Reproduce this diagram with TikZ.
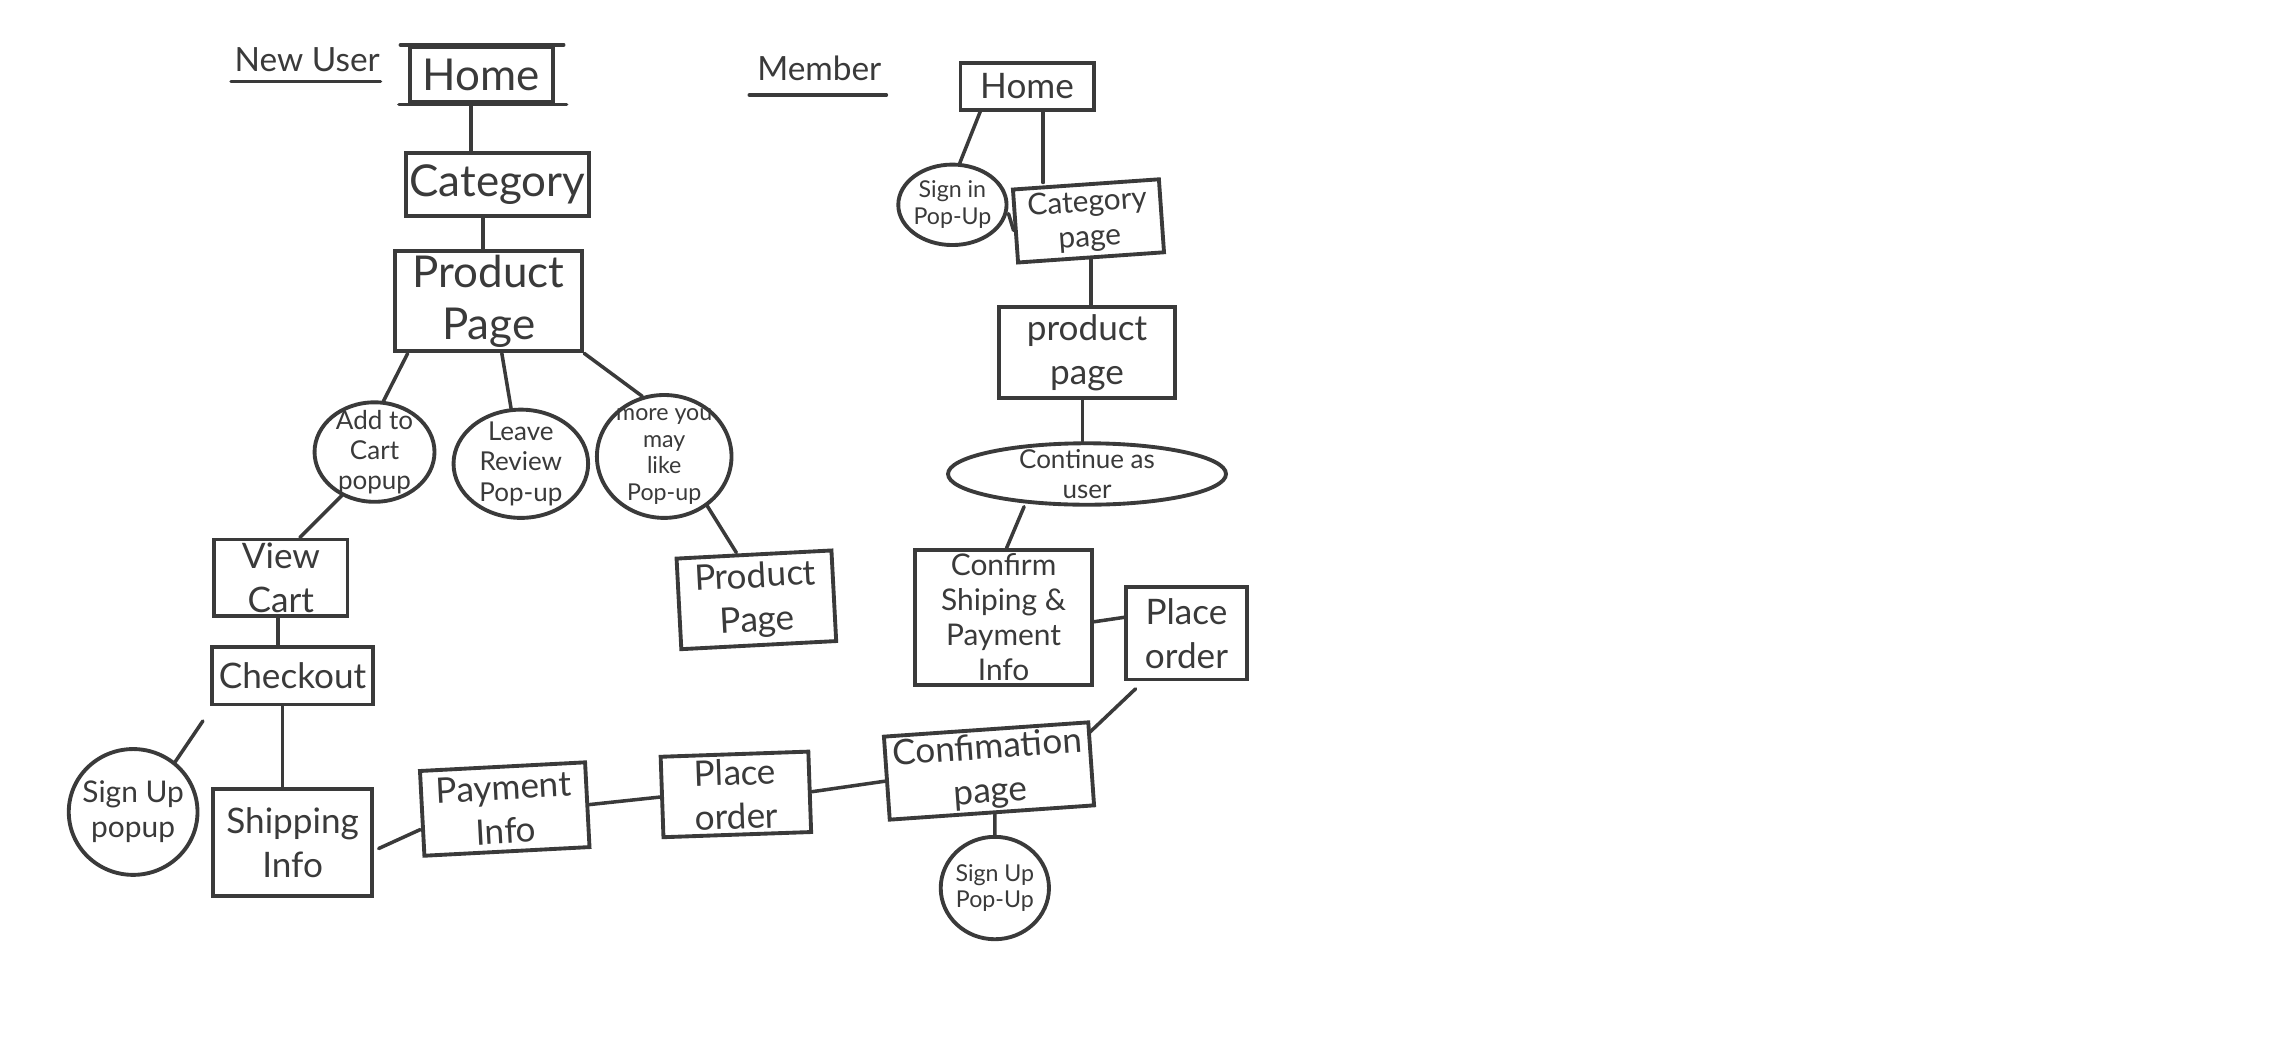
\documentclass[tikz,border=0pt]{standalone}
\usepackage{fontspec}
\setmainfont{Lato}
\usetikzlibrary{shapes.geometric,calc}
\definecolor{pencil}{HTML}{3A3A3A}
\newcommand\pu{0.01463cm}
\tikzset{
  ink/.style={draw=pencil, line width=1.1pt},
  box/.style={ink, rectangle, align=center, inner sep=1pt, text=pencil},
  bubble/.style={ink, ellipse, inner sep=0pt},
  btxt/.style={align=center, inner sep=0pt, text=pencil},
  fbig/.style={font=\fontsize{12.5}{15}\selectfont},
  fmid/.style={font=\fontsize{10}{12.5}\selectfont},
  fsml/.style={font=\fontsize{8.5}{10}\selectfont},
  fpop/.style={font=\fontsize{7.4}{8.6}\selectfont},
  ftiny/.style={font=\fontsize{6.6}{7.6}\selectfont},
  title/.style={text=pencil, inner sep=0pt, font=\fontsize{9.5}{11}\selectfont},
  link/.style={draw=pencil, line width=1pt, line cap=round},
}
\begin{document}
\begin{tikzpicture}[x=\pu, y=-\pu]
\useasboundingbox[fill=white] (0,0) rectangle (1568,716);

% ---------------- New User ----------------
\node[title] (nuT) at (210,41) {New User};
\draw[link] ([xshift=-2*\pu,yshift=-6*\pu]nuT.south west) -- ([xshift=0*\pu,yshift=-6*\pu]nuT.south east);

\node[box, fbig, minimum width=98*\pu, minimum height=38*\pu] (lHome) at (329,51) {Home};
\draw[link] ([xshift=-5*\pu]lHome.north west) -- ([xshift=6*\pu]lHome.north east);
\draw[link] ([xshift=-6*\pu]lHome.south west) -- ([xshift=8*\pu]lHome.south east);
\node[box, fbig, minimum width=124*\pu, minimum height=43*\pu] (lCat) at (340,126) {Category};
\node[box, fbig, minimum width=128*\pu, minimum height=53*\pu] (lProd) at (334,206) {Product\\Page};

\node[bubble, minimum width=82*\pu, minimum height=68*\pu,
  label={[btxt, fpop]center:{Add to\\Cart\\popup}}] (lAdd) at (256,309) {};
\node[bubble, minimum width=92*\pu, minimum height=74*\pu,
  label={[btxt, fpop]center:{Leave\\Review\\Pop-up}}] (lRev) at (356,317) {};
\node[bubble, minimum width=92*\pu, minimum height=84*\pu,
  label={[btxt, ftiny]center:{more you\\may\\like\\Pop-up}}] (lMore) at (454,312) {};
\node[box, fmid, minimum width=106*\pu, minimum height=62*\pu, rotate=3] (lProd2) at (517,410) {Product\\Page};

\node[box, fmid, minimum width=91*\pu, minimum height=50*\pu] (lView) at (192,395) {View\\Cart};
\node[box, fmid, minimum width=110*\pu, minimum height=39*\pu] (lCheck) at (200,462) {Checkout};
\node[bubble, minimum width=88*\pu, minimum height=86*\pu,
  label={[btxt, fsml]center:{Sign Up\\popup}}] (lSign) at (91,555) {};
\node[box, fmid, minimum width=109*\pu, minimum height=73*\pu] (lShip) at (200,576) {Shipping\\Info};
\node[box, fmid, minimum width=113*\pu, minimum height=58*\pu, rotate=3] (lPay) at (345,553) {Payment\\Info};
\node[box, fmid, minimum width=101*\pu, minimum height=55*\pu, rotate=2] (lPlace) at (503,543) {Place\\order};
\node[box, fmid, minimum width=140*\pu, minimum height=56*\pu, rotate=4] (conf) at (676,527) {Confimation\\page};
\node[bubble, minimum width=74*\pu, minimum height=70*\pu,
  label={[btxt, ftiny]center:{Sign Up\\Pop-Up}}] (sign2) at (680,607) {};

\draw[link] ([xshift=-7*\pu]lHome.south) -- ([xshift=-7*\pu]lHome.south |- lCat.north);
\draw[link] ([xshift=-10*\pu]lCat.south) -- ([xshift=-10*\pu]lCat.south |- lProd.north);
\draw[link] ([xshift=10*\pu]lProd.south west) -- (lAdd.80);
\draw[link] ([xshift=9*\pu]lProd.south) -- (lRev.100);
\draw[link] (lProd.south east) -- (lMore.110);
\draw[link] (lMore.311) -- ([xshift=-12*\pu]lProd2.north);
\draw[link] (lAdd.233) -- ([xshift=13*\pu]lView.north);
\draw[link] ([xshift=-2*\pu]lView.south) -- ([xshift=-2*\pu]lView.south |- lCheck.north);
\draw[link] ([xshift=-7*\pu]lCheck.south) -- ([xshift=-7*\pu]lCheck.south |- lShip.north);
\draw[link] ([xshift=-5*\pu,yshift=-10*\pu]lCheck.south west) -- (lSign.50);
\draw[link] ([xshift=3*\pu,yshift=-4*\pu]lShip.east) -- ([yshift=-11*\pu]lPay.west);
\draw[link] (lPay.east) -- (lPlace.west);
\draw[link] (lPlace.east) -- ([yshift=-2*\pu]conf.west);
\draw[link] ([xshift=2*\pu]conf.south) -- (sign2.north);

% ---------------- Member ----------------
\node[title] (mT) at (560,47) {Member};
\draw[link] ([xshift=-5*\pu,yshift=-9*\pu]mT.south west) -- ([xshift=3*\pu,yshift=-9*\pu]mT.south east);

\node[box, fmid, minimum width=91*\pu, minimum height=32*\pu] (mHome) at (702,59) {Home};
\node[bubble, minimum width=74*\pu, minimum height=55*\pu,
  label={[btxt, ftiny]center:{Sign in\\Pop-Up}}] (mSign) at (651,140) {};
\node[box, fsml, minimum width=100*\pu, minimum height=50*\pu, rotate=4] (mCat) at (744,151) {Category\\page};
\node[box, fmid, minimum width=120*\pu, minimum height=62*\pu] (mProd) at (743,241) {product\\page};
\node[bubble, minimum width=190*\pu, minimum height=42*\pu,
  label={[btxt, fpop]center:{Continue as\\user}}] (mCont) at (743,324) {};
\node[box, fsml, minimum width=121*\pu, minimum height=88*\pu] (mConfirm) at (686,422) {Confirm\\Shiping \&\\Payment\\Info};
\node[box, fmid, minimum width=83*\pu, minimum height=63*\pu] (mPlace) at (811,433) {Place\\order};

\draw[link] ([xshift=-32*\pu]mHome.south) -- (mSign.80);
\draw[link] ([xshift=11*\pu]mHome.south) -- ([xshift=11*\pu]mHome.south |- mCat.north);
\draw[link] ([yshift=-6*\pu]mSign.east) -- ([yshift=-3*\pu]mCat.west);
\draw[link] (mCat.south) -- (mCat.south |- mProd.north);
\draw[link] ([xshift=-3*\pu]mProd.south) -- ([xshift=-3*\pu]mProd.south |- mCont.north);
\draw[link] ([xshift=-43*\pu]mCont.south) -- ([xshift=2*\pu]mConfirm.north);
\draw[link] ([yshift=-3*\pu]mConfirm.east) -- ([yshift=11*\pu]mPlace.west);
\draw[link] ([xshift=8*\pu,yshift=-5*\pu]mPlace.south west) -- ([yshift=-8*\pu]conf.north east);
\end{tikzpicture}
\end{document}
